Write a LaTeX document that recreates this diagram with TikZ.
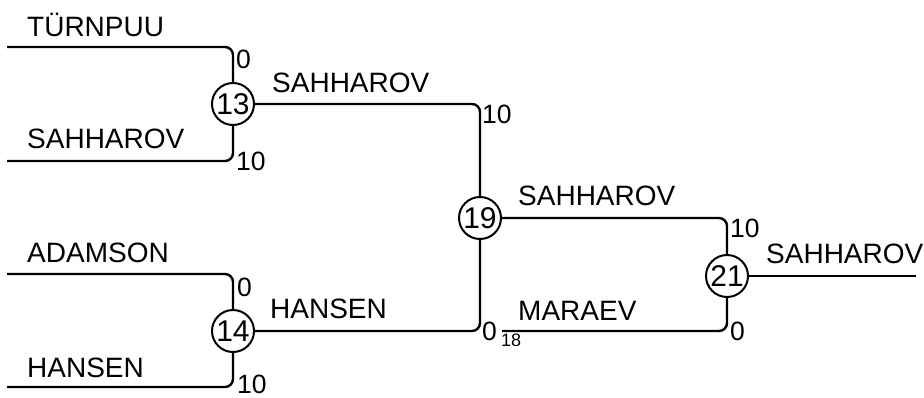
\documentclass[tikz,border=0pt]{standalone}
\usepackage{fontspec}
\setmainfont{Liberation Sans}
\begin{document}
\begin{tikzpicture}[x=1pt,y=-1pt,
  wire/.style={line width=2.4pt,rounded corners=8pt},
  matchnode/.style={circle,draw,line width=2pt,minimum size=42pt,inner sep=0pt,font=\fontsize{30}{30}\selectfont},
  pname/.style={anchor=base west,inner sep=0pt,font=\fontsize{28}{28}\selectfont},
  pscore/.style={anchor=west,inner sep=0pt,font=\fontsize{26.5}{26.5}\selectfont},
  psub/.style={anchor=west,inner sep=0pt,font=\fontsize{18}{18}\selectfont}]
\useasboundingbox (0,0) rectangle (924,397);
% matches
\node[matchnode] (m13) at (233,104) {13};
\node[matchnode] (m14) at (233,331) {14};
\node[matchnode] (m19) at (480,218) {19};
\node[matchnode] (m21) at (727,276) {21};
% free ends
\coordinate (p1) at (7,47);
\coordinate (p2) at (7,161);
\coordinate (p3) at (7,274);
\coordinate (p4) at (7,387);
\coordinate (p5) at (502,331);
\coordinate (p6) at (916,276);
% wires
\draw[wire] (p1) -| (m13);
\draw[wire] (p2) -| (m13);
\draw[wire] (p3) -| (m14);
\draw[wire] (p4) -| (m14);
\draw[wire] (m13) -| (m19);
\draw[wire] (m14) -| (m19);
\draw[wire] (m19) -| (m21);
\draw[wire] (p5) -| (m21);
\draw[wire] (m21) -- (p6);
% names
\node[pname] (n1) at (27,36) {TÜRNPUU};
\node[pname] (n2) at (27,148) {SAHHAROV};
\node[pname] (n3) at (27,262) {ADAMSON};
\node[pname] (n4) at (27,377) {HANSEN};
\node[pname] (n5) at (272,92) {SAHHAROV};
\node[pname] (n6) at (270,318) {HANSEN};
\node[pname] (n7) at (518,205) {SAHHAROV};
\node[pname] (n8) at (518,320) {MARAEV};
\node[pname] (n9) at (766,263) {SAHHAROV};
% scores
\node[pscore] (s1) at (236,59) {0};
\node[pscore] (s2) at (236,161) {10};
\node[pscore] (s3) at (237,287) {0};
\node[pscore] (s4) at (237,384) {10};
\node[pscore] (s5) at (482,114) {10};
\node[pscore] (s6) at (482,331) {0};
\node[psub] (s7) at (501,340) {18};
\node[pscore] (s8) at (730,228) {10};
\node[pscore] (s9) at (730,331) {0};
\end{tikzpicture}
\end{document}
